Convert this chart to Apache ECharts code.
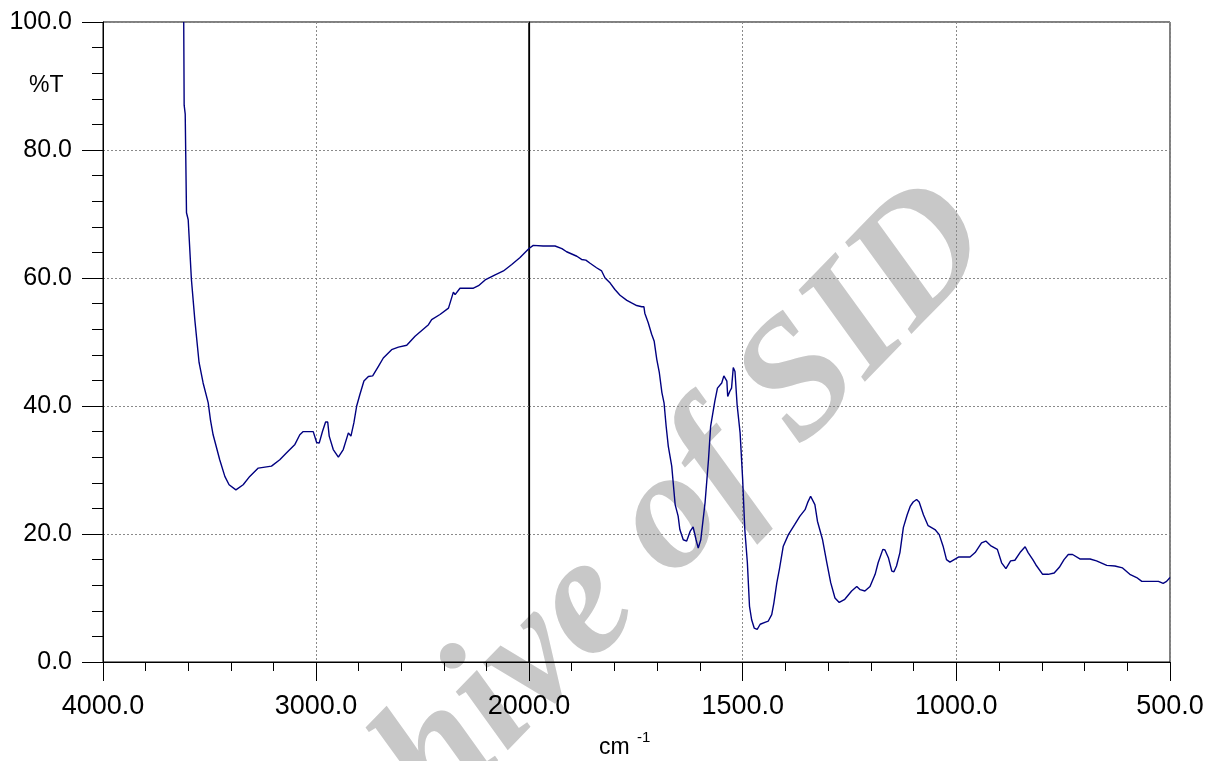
<!DOCTYPE html>
<html>
<head>
<meta charset="utf-8">
<title>IR spectrum</title>
<script src="https://cdn.jsdelivr.net/npm/echarts@6/dist/echarts.min.js"></script>
<style>
  html, body { margin: 0; padding: 0; background: #fff; }
  #chart { width: 1209px; height: 761px; }
</style>
</head>
<body>
<div id="chart"></div>
<script>
// Wavenumber (cm-1) and transmittance (%T), high to low wavenumber
const wavenumbers = [
  3621, 3619, 3614, 3608, 3600, 3585, 3569, 3549, 3530, 3506, 3495, 3483, 3452, 3428, 3408, 3376,
  3342, 3311, 3271, 3209, 3170, 3138, 3099, 3076, 3060, 3013, 2997, 2985, 2969, 2955, 2945, 2938,
  2919, 2895, 2872, 2848, 2836, 2822, 2809, 2794, 2775, 2754, 2734, 2707, 2684, 2645, 2613, 2574,
  2535, 2472, 2457, 2418, 2378, 2355, 2347, 2324, 2261, 2237, 2206, 2159, 2120, 2081, 2042, 2000,
  1990, 1967, 1939, 1923, 1912, 1888, 1877, 1867, 1857, 1842, 1830, 1822, 1810, 1799, 1787, 1771,
  1760, 1748, 1736, 1731, 1729, 1721, 1713, 1707, 1701, 1695, 1689, 1684, 1679, 1674, 1666, 1658,
  1651, 1647, 1639, 1631, 1623, 1616, 1609, 1604, 1598, 1588, 1580, 1575, 1565, 1559, 1549, 1544,
  1537, 1535, 1530, 1526, 1522, 1518, 1513, 1506, 1500, 1495, 1489, 1484, 1479, 1473, 1466, 1459,
  1448, 1440, 1432, 1427, 1420, 1414, 1405, 1393, 1378, 1366, 1354, 1348, 1341, 1331, 1325, 1313,
  1303, 1294, 1284, 1274, 1261, 1245, 1233, 1225, 1214, 1202, 1190, 1183, 1172, 1167, 1159, 1151,
  1146, 1140, 1132, 1124, 1115, 1108, 1101, 1093, 1087, 1077, 1066, 1050, 1040, 1031, 1023, 1015,
  995, 968, 956, 941, 931, 920, 904, 894, 884, 873, 863, 851, 839, 832, 821, 814,
  798, 785, 771, 759, 748, 738, 728, 711, 687, 672, 668, 648, 629, 611, 594, 578,
  566, 527, 516, 508, 500
];
const transmittance = [
  100.0, 87.0, 85.6, 70.2, 69.1, 59.8, 53.5, 46.8, 43.6, 40.5, 37.7, 35.5, 31.6, 29.0, 27.7, 26.9,
  27.7, 29.0, 30.3, 30.6, 31.6, 32.7, 34.0, 35.5, 36.0, 36.0, 34.3, 34.2, 36.1, 37.5, 37.5, 35.3,
  33.2, 32.0, 33.2, 35.8, 35.3, 37.4, 40.0, 41.8, 43.9, 44.6, 44.7, 46.2, 47.5, 48.8, 49.2, 49.5,
  50.9, 52.7, 53.5, 54.3, 55.3, 57.8, 57.4, 58.4, 58.4, 58.8, 59.7, 60.5, 61.1, 62.1, 63.2, 64.6,
  65.1, 65.0, 65.0, 64.6, 64.1, 63.4, 62.9, 62.8, 62.3, 61.6, 61.1, 60.0, 59.2, 58.2, 57.3, 56.5,
  56.1, 55.7, 55.5, 55.5, 54.5, 53.0, 51.2, 50.1, 47.3, 45.2, 42.1, 40.5, 36.8, 33.7, 30.6, 24.6,
  22.8, 20.7, 19.1, 18.9, 20.4, 21.1, 19.1, 17.8, 19.1, 24.9, 31.6, 36.8, 40.8, 42.8, 43.6, 44.7,
  43.9, 41.5, 42.3, 42.8, 46.0, 45.4, 40.2, 35.8, 28.5, 20.7, 15.5, 8.7, 6.6, 5.3, 5.1, 5.9,
  6.2, 6.4, 7.4, 9.2, 12.4, 14.5, 18.1, 19.9, 21.5, 22.8, 23.8, 24.9, 25.9, 24.6, 22.0, 19.1,
  15.5, 12.4, 10.0, 9.3, 9.8, 11.1, 11.8, 11.3, 11.1, 11.8, 13.7, 15.5, 17.6, 17.5, 16.3, 14.2,
  14.1, 15.0, 17.1, 21.0, 23.0, 24.3, 25.0, 25.4, 25.0, 23.0, 21.3, 20.7, 19.9, 18.1, 16.0, 15.6,
  16.4, 16.4, 17.1, 18.6, 18.9, 18.2, 17.6, 15.5, 14.6, 15.8, 15.9, 17.1, 18.0, 17.1, 16.0, 15.2,
  13.7, 13.7, 13.9, 14.8, 16.0, 16.8, 16.8, 16.1, 16.1, 15.8, 15.5, 15.1, 15.0, 14.7, 13.7, 13.2,
  12.6, 12.6, 12.3, 12.6, 13.2
];

// The wavenumber axis is split at 2000 cm-1: 4000-2000 is compressed by half
const axisBreak = 2000;
const xRangeHigh = [2000, 4000];
const xRangeLow = [500, 2000];
const yRange = [0, 100];

const pairs = wavenumbers.map((w, i) => [w, transmittance[i]]);
const highPart = pairs.filter(p => p[0] >= axisBreak);
const lowPart = pairs.filter(p => p[0] <= axisBreak);

const FONT = '"Liberation Sans", Arial, Helvetica, sans-serif';
const dotted = { show: true, lineStyle: { color: '#8a8a8a', type: [2, 2], width: 1 } };
const fmt = v => v.toFixed(1);

const gridTop = 22, gridHeight = 640;

const chart = echarts.init(document.getElementById('chart'), null, { renderer: 'canvas' });
chart.setOption({
  animation: false,
  backgroundColor: '#fff',
  grid: [
    { left: 103, top: gridTop, width: 426, height: gridHeight, show: true,
      borderColor: '#000', borderWidth: 1, backgroundColor: 'transparent' },
    { left: 529, top: gridTop, width: 641, height: gridHeight, show: true,
      borderColor: '#000', borderWidth: 1, backgroundColor: 'transparent' }
  ],
  xAxis: [
    { gridIndex: 0, type: 'value', min: xRangeHigh[0], max: xRangeHigh[1], interval: 1000, inverse: true,
      axisLine: { show: true, onZero: false, lineStyle: { color: '#000', width: 1 } },
      axisTick: { show: true, length: 19, lineStyle: { color: '#000', width: 1 } },
      minorTick: { show: true, splitNumber: 5, length: 9, lineStyle: { color: '#000', width: 1 } },
      axisLabel: { show: true, margin: 31, fontSize: 27, fontFamily: FONT, color: '#000',
        formatter: v => (v === axisBreak ? '' : fmt(v)) },
      splitLine: dotted, minorSplitLine: { show: false } },
    { gridIndex: 1, type: 'value', min: xRangeLow[0], max: xRangeLow[1], interval: 500, inverse: true,
      axisLine: { show: true, onZero: false, lineStyle: { color: '#000', width: 1 } },
      axisTick: { show: true, length: 19, lineStyle: { color: '#000', width: 1 } },
      minorTick: { show: true, splitNumber: 5, length: 9, lineStyle: { color: '#000', width: 1 } },
      axisLabel: { show: true, margin: 31, fontSize: 27, fontFamily: FONT, color: '#000',
        formatter: v => fmt(v), showMaxLabel: true, showMinLabel: true },
      splitLine: dotted, minorSplitLine: { show: false } }
  ],
  yAxis: [
    { gridIndex: 0, type: 'value', min: yRange[0], max: yRange[1], interval: 20,
      axisLine: { show: true, onZero: false, lineStyle: { color: '#000', width: 1 } },
      axisTick: { show: true, length: 21, lineStyle: { color: '#000', width: 1 } },
      minorTick: { show: true, splitNumber: 5, length: 11, lineStyle: { color: '#000', width: 1 } },
      axisLabel: { show: true, margin: 31, fontSize: 25, fontFamily: FONT, color: '#000', formatter: v => fmt(v) },
      splitLine: dotted },
    { gridIndex: 1, type: 'value', min: yRange[0], max: yRange[1], interval: 20,
      axisLine: { show: true, onZero: false, lineStyle: { color: '#000', width: 1.2 } },
      axisTick: { show: false }, minorTick: { show: false },
      axisLabel: { show: false },
      splitLine: dotted }
  ],
  series: [
    { type: 'line', xAxisIndex: 0, yAxisIndex: 0, data: highPart, showSymbol: false, symbol: 'none',
      lineStyle: { color: '#000080', width: 1.4 }, z: 5, clip: true },
    { type: 'line', xAxisIndex: 1, yAxisIndex: 1, data: lowPart, showSymbol: false, symbol: 'none',
      lineStyle: { color: '#000080', width: 1.4 }, z: 5, clip: true }
  ],
  graphic: [
    { type: 'text', z: -10, x: 598, y: 594, rotation: Math.PI * 0.255,
      style: { text: 'Archive of SID', fill: '#c8c8c8', align: 'center', verticalAlign: 'middle',
        font: 'italic bold 170px "Liberation Serif", "Times New Roman", serif' } },
    { type: 'text', left: 29, top: 74,
      style: { text: '%T', fill: '#000', font: '23px ' + FONT } },
    { type: 'text', left: 599, top: 736,
      style: { text: 'cm', fill: '#000', font: '23px ' + FONT } },
    { type: 'text', left: 637, top: 730,
      style: { text: '-1', fill: '#000', font: '15px ' + FONT } }
  ]
});
</script>
</body>
</html>
